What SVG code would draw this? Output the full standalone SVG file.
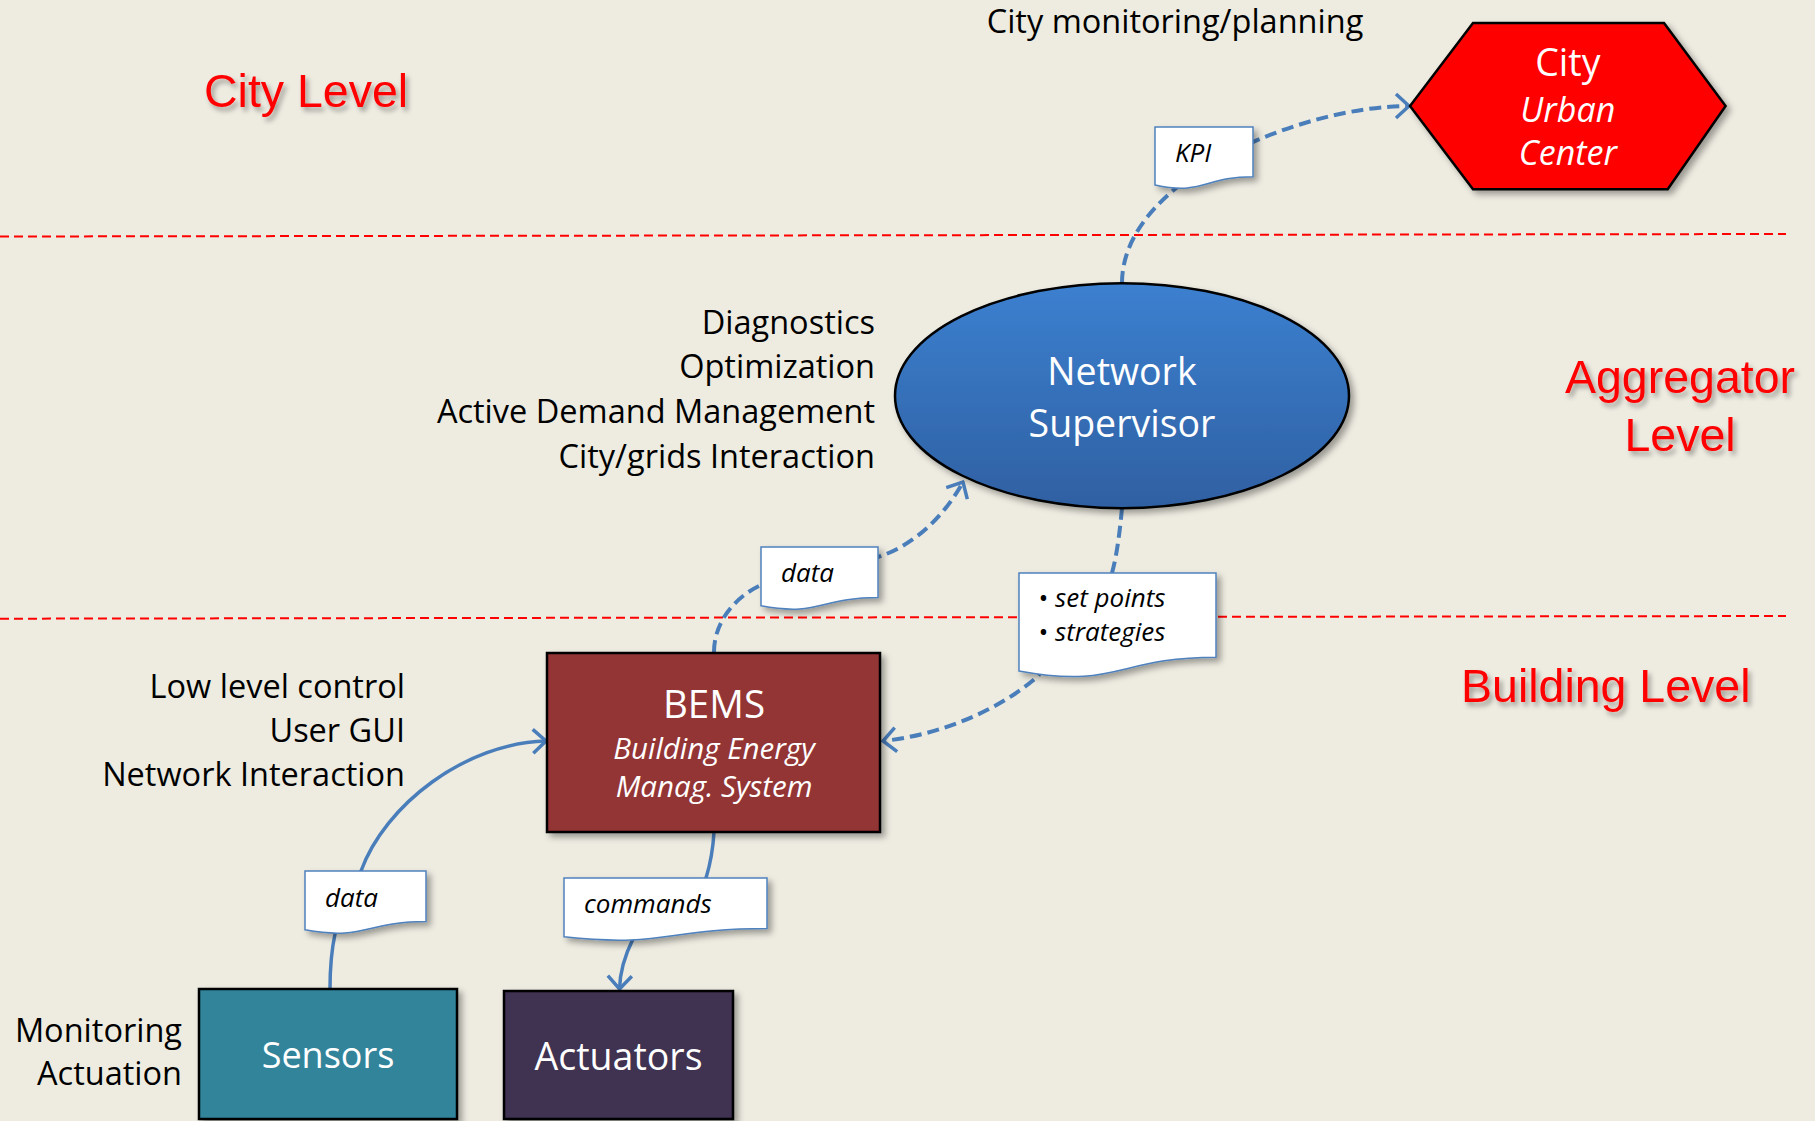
<svg xmlns="http://www.w3.org/2000/svg" width="1815" height="1121" viewBox="0 0 1815 1121">
  <style>
    .side { font-family: "Open Sans", "Noto Sans", sans-serif; font-size: 32.5px; fill: #000; }
    .end { text-anchor: end; }
    .lvl { font-family: "Liberation Sans", Arial, sans-serif; font-size: 46.5px; fill: #FF0000; filter: url(#tsh); }
    .wt { font-family: "Open Sans", "Noto Sans", sans-serif; fill: #FFFFFF; text-anchor: middle; }
    .doc { fill: #FFFFFF; stroke: #4F81BD; stroke-width: 1.5; filter: url(#sh); }
    .doct { font-family: "Open Sans", "Noto Sans", sans-serif; font-size: 26px; font-style: italic; fill: #000; }
    .conn { fill: none; stroke: #4A7EBB; stroke-width: 3.5; stroke-linecap: butt; }
    .dash { stroke-width: 4; stroke-dasharray: 12 6; }
    .sep { stroke: #FF0000; stroke-width: 2; stroke-dasharray: 9 5; fill: none; }
    .box { stroke: #000; stroke-width: 2.5; filter: url(#sh); }
  </style>
  <defs>
    <filter id="sh" x="-20%" y="-20%" width="140%" height="140%">
      <feDropShadow dx="4" dy="4" stdDeviation="3" flood-color="#000" flood-opacity="0.35"/>
    </filter>
    <filter id="tsh" x="-10%" y="-20%" width="120%" height="150%">
      <feDropShadow dx="3" dy="4" stdDeviation="2.5" flood-color="#000" flood-opacity="0.35"/>
    </filter>
    <linearGradient id="blue" x1="0" y1="0" x2="0" y2="1">
      <stop offset="0" stop-color="#3C80D0"/>
      <stop offset="1" stop-color="#2F60A2"/>
    </linearGradient>
    <marker id="arr" viewBox="0 0 18 28" refX="16" refY="14" markerWidth="18" markerHeight="28" markerUnits="userSpaceOnUse" orient="auto">
      <path d="M3,2 L16,14 L3,26" fill="none" stroke="#4A7EBB" stroke-width="3.5" stroke-dasharray="none"/>
    </marker>
  </defs>

  <rect x="0" y="0" width="1815" height="1121" fill="#EEECE1"/>

  <!-- level separators -->
  <g id="separators">
    <line class="sep" x1="0" y1="236.5" x2="1786" y2="234"/>
    <line class="sep" x1="0" y1="618.7" x2="1786" y2="616"/>
  </g>

  <!-- level labels -->
  <g id="levels">
    <text class="lvl" x="204" y="106.7">City Level</text>
    <text class="lvl" x="1680" y="392.7" text-anchor="middle">Aggregator</text>
    <text class="lvl" x="1680" y="450.7" text-anchor="middle">Level</text>
    <text class="lvl" x="1461" y="701.7">Building Level</text>
  </g>

  <!-- side annotations -->
  <g id="annotations">
    <text class="side" x="1175" y="33" text-anchor="middle" font-size="33">City monitoring/planning</text>
    <text class="side end" x="875" y="334.3">Diagnostics</text>
    <text class="side end" x="875" y="378.3">Optimization</text>
    <text class="side end" x="875" y="423.3">Active Demand Management</text>
    <text class="side end" x="875" y="468.3">City/grids Interaction</text>
    <text class="side end" x="405" y="697.7">Low level control</text>
    <text class="side end" x="405" y="742.3">User GUI</text>
    <text class="side end" x="405" y="785.7">Network Interaction</text>
    <text class="side end" x="182" y="1041.7">Monitoring</text>
    <text class="side end" x="182" y="1085">Actuation</text>
  </g>

  <!-- connectors -->
  <g id="connectors">
    <path id="c-ns-city" class="conn dash" d="M1122,283 C1122,180 1300,106 1409,106" marker-end="url(#arr)"/>
    <path id="c-bems-ns" class="conn dash" d="M714,652 C714,622 735,597 761,585 L878,557 C915,545 945,515 963,482" marker-end="url(#arr)"/>
    <path id="c-ns-bems" class="conn dash" d="M1122,508 C1120,530 1117,555 1112,573 L1038,676 C1000,710 940,735 883,741" marker-end="url(#arr)"/>
    <path id="c-sens-bems" class="conn" d="M330,989 C330,965 332,948 335,934 L361,871 C385,805 465,743 546,741" marker-end="url(#arr)"/>
    <path id="c-bems-act" class="conn" d="M714,832 C713,850 710,865 706,878 L633,939 C625,955 620,970 619.5,989" marker-end="url(#arr)"/>
  </g>

  <!-- connector labels (document shapes) -->
  <g id="label-kpi">
    <path class="doc" d="M1155,127 H1253 V176.7 C1204,176.7 1204,195.6 1155,184.9 Z"/>
    <text class="doct" x="1175" y="161.7">KPI</text>
  </g>
  <g id="label-data-up">
    <path class="doc" d="M761,547 H878 V597.5 C819.5,597.5 819.5,616.7 761,605.8 Z"/>
    <text class="doct" x="781" y="581.7">data</text>
  </g>
  <g id="label-setpoints">
    <path class="doc" d="M1019,573 H1216 V657.2 C1117.5,657.2 1117.5,689.2 1019,671.1 Z"/>
    <text class="doct" x="1038" y="607" font-style="normal">•</text>
    <text class="doct" x="1055" y="607" font-size="26.5">set points</text>
    <text class="doct" x="1038" y="641" font-style="normal">•</text>
    <text class="doct" x="1055" y="641" font-size="26.5">strategies</text>
  </g>
  <g id="label-data-low">
    <path class="doc" d="M305,871 H426 V921.5 C365.5,921.5 365.5,940.7 305,929.8 Z"/>
    <text class="doct" x="325" y="906.7">data</text>
  </g>
  <g id="label-commands">
    <path class="doc" d="M564,878 H767 V928.5 C665.5,928.5 665.5,947.7 564,936.8 Z"/>
    <text class="doct" x="584" y="912.7">commands</text>
  </g>

  <!-- nodes -->
  <g id="node-city">
    <polygon class="box" points="1410,106 1473,23 1664,23 1725.6,106 1667.7,189.3 1473,189.3" fill="#FF0000" stroke-width="2"/>
    <text class="wt" x="1567.8" y="76" font-size="37.5">City</text>
    <text class="wt" x="1567.8" y="121.7" font-size="34" font-style="italic">Urban</text>
    <text class="wt" x="1567.8" y="165" font-size="34" font-style="italic">Center</text>
  </g>
  <g id="node-supervisor">
    <ellipse class="box" cx="1122" cy="395.7" rx="227" ry="112.5" fill="url(#blue)" stroke-width="2"/>
    <text class="wt" x="1122" y="385" font-size="37.5">Network</text>
    <text class="wt" x="1122" y="436.7" font-size="37.5">Supervisor</text>
  </g>
  <g id="node-bems">
    <rect class="box" x="547" y="653" width="333" height="179" fill="#943634"/>
    <text class="wt" x="714" y="718" font-size="38.5">BEMS</text>
    <text class="wt" x="714" y="759" font-size="29.5" font-style="italic">Building Energy</text>
    <text class="wt" x="714" y="796.7" font-size="29.5" font-style="italic">Manag. System</text>
  </g>
  <g id="node-sensors">
    <rect class="box" x="199" y="989" width="258" height="130" fill="#31849B"/>
    <text class="wt" x="328" y="1068" font-size="36">Sensors</text>
  </g>
  <g id="node-actuators">
    <rect class="box" x="504" y="991" width="229" height="128" fill="#3F3151"/>
    <text class="wt" x="618.5" y="1070" font-size="37.5">Actuators</text>
  </g>
</svg>
